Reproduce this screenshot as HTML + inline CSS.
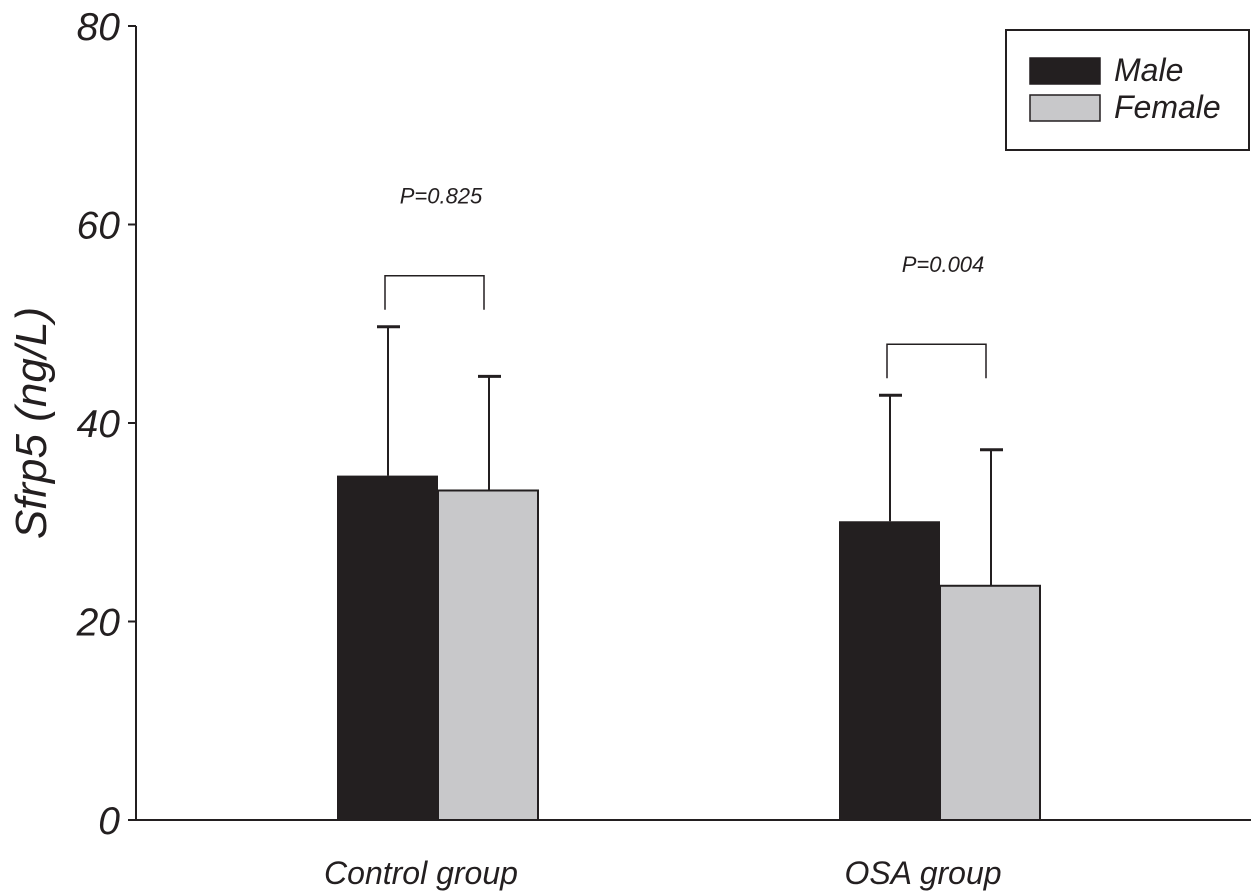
<!DOCTYPE html>
<html><head><meta charset="utf-8"><style>
body{margin:0;background:#fff}
text{font-family:"Liberation Sans",sans-serif;font-style:italic;fill:#231f20}
</style></head><body>
<svg width="1251" height="891">
<g id="g"></g>
</svg>
<script>
const groups=["Control group","OSA group"];
const maleVals=[34.7,30.1];
const femaleVals=[33.2,23.6];
const maleErr=[49.7,42.8];
const femaleErr=[44.7,37.3];
const pLabels=["P=0.825","P=0.004"];
const yTicks=[0,20,40,60,80];
const NS="http://www.w3.org/2000/svg";
const g=document.getElementById('g');
function y(v){return 820-v*(820-26)/80;}
function el(t,a,txt){const e=document.createElementNS(NS,t);for(const k in a)e.setAttribute(k,a[k]);if(txt!==undefined)e.textContent=txt;g.appendChild(e);return e;}
const axY=el('line',{x1:136,y1:26,x2:136,y2:821,stroke:'#231f20','stroke-width':2});


const axX=el('line',{x1:135,y1:820,x2:1251,y2:820,stroke:'#231f20','stroke-width':2});


yTicks.forEach(t=>{
 const l=el('line',{x1:128,y1:y(t),x2:136,y2:y(t),stroke:'#231f20','stroke-width':2});
 
 
 const tx=el('text',{x:120,y:y(t)+14,'text-anchor':'end','font-size':39},String(t));
 
 
});
const yt=el('text',{x:0,y:0,'font-size':44,'text-anchor':'middle',transform:'translate(46,423) rotate(-90)'},'Sfrp5 (ng/L)');


const starts=[337,839];const bw=101;
groups.forEach((gname,i)=>{
 const x0=starts[i];
 const bm=el('rect',{x:x0,y:y(maleVals[i]),width:bw,height:820-y(maleVals[i]),fill:'#231f20'});
 
 
 const bf=el('rect',{x:x0+bw,y:y(femaleVals[i]),width:bw-1,height:820-y(femaleVals[i]),fill:'#c8c8ca',stroke:'#231f20','stroke-width':2});
 
 
 [[x0+51,maleErr[i],maleVals[i]],[x0+152,femaleErr[i],femaleVals[i]]].forEach(([cx,e,v])=>{
  const l=el('line',{x1:cx,y1:y(e),x2:cx,y2:y(v),stroke:'#231f20','stroke-width':2});
  
  
  const c=el('line',{x1:cx-11,y1:y(e),x2:cx+12,y2:y(e),stroke:'#231f20','stroke-width':3});
  
  
 });
 const topE=Math.max(maleErr[i],femaleErr[i]);
 const by=y(topE)-51, bb=y(topE)-17;
 const br=el('path',{d:`M${x0+48},${bb} V${by} H${x0+147} V${bb}`,fill:'none',stroke:'#231f20','stroke-width':1.5});
 
 
 const p=el('text',{x:x0+104,y:by-72,'text-anchor':'middle','font-size':22},pLabels[i]);
 
 
 const gl=el('text',{x:x0+84,y:884,'text-anchor':'middle','font-size':32},gname);
 
 
});
const lg=el('rect',{x:1006,y:30,width:243,height:120,fill:'#fff',stroke:'#231f20','stroke-width':2});


[['Male','#231f20',58],['Female','#c8c8ca',95]].forEach(([n,c,yy])=>{
 const s=el('rect',{x:1030,y:yy,width:70,height:26,fill:c,stroke:'#231f20','stroke-width':1.5});
 
 
 const t=el('text',{x:1114,y:yy+23,'font-size':32},n);
 
 
});
</script>
</body></html>
